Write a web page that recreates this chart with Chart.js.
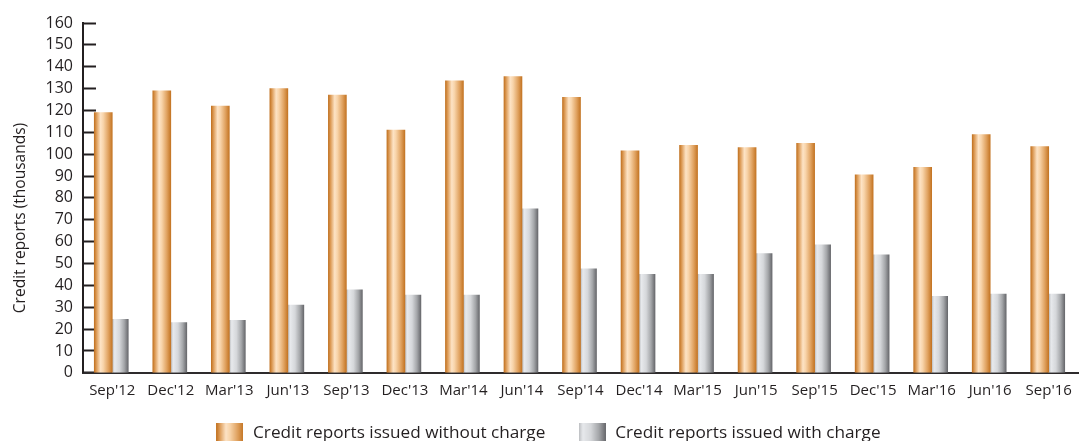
<!DOCTYPE html>
<html>
<head>
<meta charset="utf-8">
<script src="https://cdn.jsdelivr.net/npm/chart.js@4/dist/chart.umd.min.js"></script>
<style>
    html, body { margin: 0; padding: 0; background: #ffffff; }
    #wrap { width: 1080px; height: 441px; }
</style>
</head>
<body>
<div id="wrap"><canvas id="reportsChart"></canvas></div>
<script>
const quarters = ["Sep'12", "Dec'12", "Mar'13", "Jun'13", "Sep'13", "Dec'13", "Mar'14", "Jun'14", "Sep'14",
    "Dec'14", "Mar'15", "Jun'15", "Sep'15", "Dec'15", "Mar'16", "Jun'16", "Sep'16"];
const withoutCharge = [119, 129, 122, 130, 127, 111, 133.5, 135.5, 126, 101.5, 104, 103, 105, 90.5, 94, 109, 103.5];
const withCharge = [24.5, 23, 24, 31, 38, 35.5, 35.5, 75, 47.5, 45, 45, 54.5, 58.5, 54, 35, 36, 36];
const yTicks = [0, 10, 20, 30, 40, 50, 60, 70, 80, 90, 100, 110, 120, 130, 140, 150, 160];

const orangeStops = [[0, "#c27323"], [0.12, "#dc9a55"], [0.35, "#fde3c5"], [0.5, "#f8d4aa"], [0.78, "#e0a260"], [1, "#c47524"]];
const greyStops = [[0, "#b9bbbe"], [0.15, "#e7e9ec"], [0.45, "#d5d7da"], [0.75, "#a4a6a9"], [1, "#68696d"]];

const ORANGE_W = 18;
const GREY_W = 16;
const INK = "#231f20";

function makeGradient(ctx, x0, x1, stops) {
    const g = ctx.createLinearGradient(x0, 0, x1, 0);
    stops.forEach(([p, c]) => g.addColorStop(p, c));
    return g;
}

// each bar gets its own left-to-right gradient, placed from the category centre
function barFill(stops, left, width) {
    return (context) => {
        const chart = context.chart;
        if (!chart.chartArea || context.dataIndex === undefined) {
            return stops[2][1];
        }
        const cx = chart.scales.x.getPixelForValue(context.dataIndex);
        const x0 = cx + left;
        return makeGradient(chart.ctx, x0, x0 + width, stops);
    };
}

function legendSwatch(stops) {
    const c = document.createElement("canvas");
    c.width = 27;
    c.height = 20;
    const ctx = c.getContext("2d");
    ctx.fillStyle = makeGradient(ctx, 0, 27, stops);
    ctx.fillRect(0, 0, 27, 20);
    return c;
}

document.addEventListener("DOMContentLoaded", () => {
    const ctx = document.getElementById("reportsChart").getContext("2d");

    new Chart(ctx, {
        type: "bar",
        data: {
            labels: quarters,
            datasets: [
                {
                    // trailing spaces widen the gap to the next legend entry
                    label: "Credit reports issued without charge" + " ".repeat(5),
                    data: withoutCharge,
                    backgroundColor: barFill(orangeStops, -ORANGE_W, ORANGE_W),
                    barThickness: ORANGE_W,
                    pointStyle: legendSwatch(orangeStops)
                },
                {
                    label: "Credit reports issued with charge",
                    data: withCharge,
                    backgroundColor: barFill(greyStops, 0, GREY_W),
                    barThickness: GREY_W,
                    pointStyle: legendSwatch(greyStops)
                }
            ]
        },
        options: {
            responsive: true,
            maintainAspectRatio: false,
            animation: false,
            layout: {
                padding: { top: 23, right: 2, left: 18, bottom: -11 }
            },
            plugins: {
                tooltip: { enabled: false },
                legend: {
                    position: "bottom",
                    labels: {
                        usePointStyle: true,
                        pointStyleWidth: 29,
                        padding: 10,
                        color: INK,
                        font: { family: "Open Sans", size: 17.2 }
                    }
                }
            },
            scales: {
                x: {
                    afterFit: (scale) => { scale.height = 42; },
                    grid: { display: false },
                    border: { display: true, color: "#2e2b2c", width: 2 },
                    ticks: {
                        color: INK,
                        padding: 1,
                        maxRotation: 0,
                        autoSkip: false,
                        font: { family: "Open Sans", size: 15 }
                    }
                },
                y: {
                    min: 0,
                    max: 160,
                    afterFit: (scale) => {
                        scale.width = 65;
                        // the wide label padding below should not push the plot down
                        scale.paddingTop = 10;
                        scale.paddingBottom = 10;
                    },
                    afterBuildTicks: (scale) => {
                        scale.ticks = yTicks.map(v => ({ value: v }));
                    },
                    grid: {
                        drawOnChartArea: false,
                        drawTicks: true,
                        tickLength: -13,
                        tickWidth: 2,
                        tickColor: INK
                    },
                    border: { display: true, color: INK, width: 2 },
                    ticks: {
                        color: INK,
                        padding: 23,
                        autoSkip: false,
                        font: { family: "Open Sans", size: 16 }
                    },
                    title: {
                        display: true,
                        text: "Credit reports (thousands)" + " ".repeat(10),
                        color: INK,
                        padding: { top: -7, bottom: 0 },
                        font: { family: "Open Sans", size: 15.5 }
                    }
                }
            }
        }
    });
});
</script>
</body>
</html>
